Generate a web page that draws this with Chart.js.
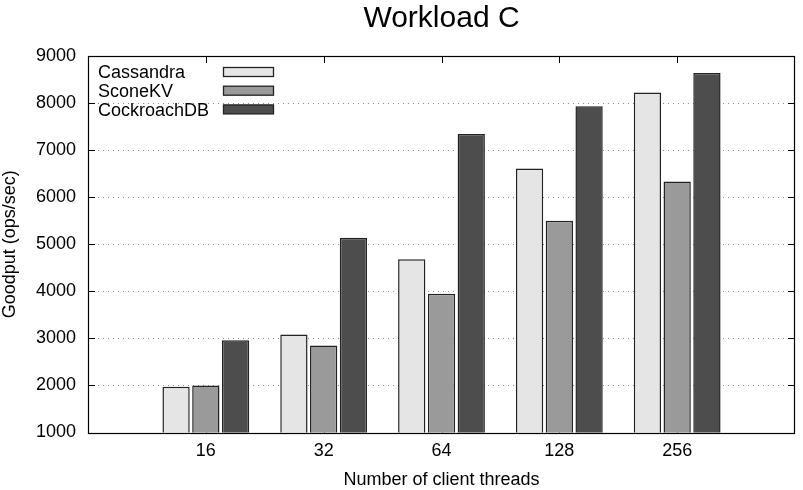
<!DOCTYPE html>
<html>
<head>
<meta charset="utf-8">
<script src="https://cdn.jsdelivr.net/npm/chart.js@4.4.0/dist/chart.umd.min.js"></script>
<style>
html,body{margin:0;padding:0;background:#fff;}
canvas{display:block;}
</style>
</head>
<body>
<canvas id="c" width="803" height="490"></canvas>
<script>
// ---- data ----
const categories = ['16', '32', '64', '128', '256'];
const seriesNames = ['Cassandra', 'SconeKV', 'CockroachDB'];
const cassandra = [1970, 3080, 4680, 6610, 8225];
const sconekv = [2000, 2850, 3950, 5500, 6335];
const cockroach = [2960, 5140, 7340, 7930, 8640];
const yTicks = [1000, 2000, 3000, 4000, 5000, 6000, 7000, 8000, 9000];
const titleText = 'Workload C';
const xTitle = 'Number of client threads';
const yTitle = 'Goodput (ops/sec)';

const FONT = '"Liberation Sans", Arial, Helvetica, sans-serif';
const fills = ['#e5e5e5', '#9a9a9a', '#4d4d4d'];

// pad an empty slot at each end (gnuplot xrange [-1:5])
const labels = [''].concat(categories, ['']);
const pad = a => [null].concat(a, [null]);

const gnuplotFrame = {
  id: 'gnuplotFrame',
  beforeDatasetsDraw(chart) {
    const {ctx, chartArea: a, scales: {x, y}} = chart;
    const tl = 7;
    ctx.save();
    // dotted grid lines
    ctx.strokeStyle = '#8c8c8c';
    ctx.lineWidth = 1;
    ctx.setLineDash([1, 4]);
    ctx.beginPath();
    yTicks.forEach(v => {
      const py = Math.round(y.getPixelForValue(v)) + 0.5;
      ctx.moveTo(a.left, py); ctx.lineTo(a.right, py);
    });
    ctx.stroke();
    ctx.setLineDash([]);
    // inward tick marks
    ctx.strokeStyle = '#000';
    ctx.beginPath();
    yTicks.forEach(v => {
      const py = Math.round(y.getPixelForValue(v)) + 0.5;
      ctx.moveTo(a.left, py); ctx.lineTo(a.left + tl, py);
      ctx.moveTo(a.right, py); ctx.lineTo(a.right - tl, py);
    });
    categories.forEach((c, i) => {
      const px = Math.round(x.getPixelForValue(i + 1)) + 0.5;
      ctx.moveTo(px, a.top); ctx.lineTo(px, a.top + tl);
      ctx.moveTo(px, a.bottom); ctx.lineTo(px, a.bottom - tl);
    });
    ctx.stroke();
    ctx.restore();
  },
  afterDatasetsDraw(chart) {
    const {ctx, chartArea: a} = chart;
    ctx.save();
    ctx.strokeStyle = '#000';
    ctx.lineWidth = 1.2;
    ctx.strokeRect(Math.round(a.left) + 0.5, Math.round(a.top) + 0.5,
                   Math.round(a.right - a.left) - 1, Math.round(a.bottom - a.top));
    // legend (text then sample box, gnuplot style)
    ctx.font = '18px ' + FONT;
    ctx.textBaseline = 'alphabetic';
    ctx.textAlign = 'left';
    chart.data.datasets.forEach((ds, i) => {
      const cy = 72 + i * 18.7;
      ctx.fillStyle = '#000';
      ctx.fillText(ds.label, 98, cy + 6.2);
      ctx.fillStyle = ds.backgroundColor;
      ctx.fillRect(223.5, cy - 4.5, 50, 9);
      ctx.lineWidth = 1.3;
      ctx.strokeStyle = '#222';
      ctx.strokeRect(223.5, cy - 4.5, 50, 9);
    });
    // title
    ctx.font = '30px ' + FONT;
    ctx.textAlign = 'center';
    ctx.fillStyle = '#000';
    ctx.fillText(titleText, (a.left + a.right) / 2, 27.3);
    ctx.restore();
  }
};

const mk = (name, data, i) => ({
  label: name,
  data: pad(data),
  backgroundColor: fills[i],
  borderColor: '#222',
  borderWidth: 1.5,
  borderSkipped: 'bottom',
  categoryPercentage: 0.7576,
  barPercentage: 0.917
});

new Chart(document.getElementById('c'), {
  type: 'bar',
  data: {
    labels: labels,
    datasets: [mk(seriesNames[0], cassandra, 0), mk(seriesNames[1], sconekv, 1), mk(seriesNames[2], cockroach, 2)]
  },
  options: {
    responsive: false,
    animation: false,
    devicePixelRatio: 1,
    layout: {padding: {top: 56, right: 2, left: 0, bottom: 0}},
    plugins: {legend: {display: false}, title: {display: false}, tooltip: {enabled: false}},
    scales: {
      x: {
        type: 'category',
        offset: false,
        grid: {display: false, drawTicks: false, offset: false},
        border: {display: false},
        ticks: {color: '#000', font: {family: FONT, size: 18}, padding: 8, maxRotation: 0, autoSkip: false},
        title: {display: true, text: xTitle, color: '#000', font: {family: FONT, size: 18, lineHeight: 1.2}, padding: {top: 0, bottom: -1}},
        afterFit: s => { s.height = 57.5; }
      },
      y: {
        min: 1000, max: 9000,
        afterBuildTicks: s => { s.ticks = yTicks.map(v => ({value: v})); },
        grid: {display: false, drawTicks: false},
        border: {display: false},
        ticks: {color: '#000', font: {family: FONT, size: 18}, padding: 12, callback: v => String(v)},
        title: {display: true, text: yTitle, color: '#000', font: {family: FONT, size: 18, lineHeight: 1.1}, padding: {top: 0, bottom: 0}},
        afterFit: s => { s.width = 88; }
      }
    }
  },
  plugins: [gnuplotFrame]
});
</script>
</body>
</html>
